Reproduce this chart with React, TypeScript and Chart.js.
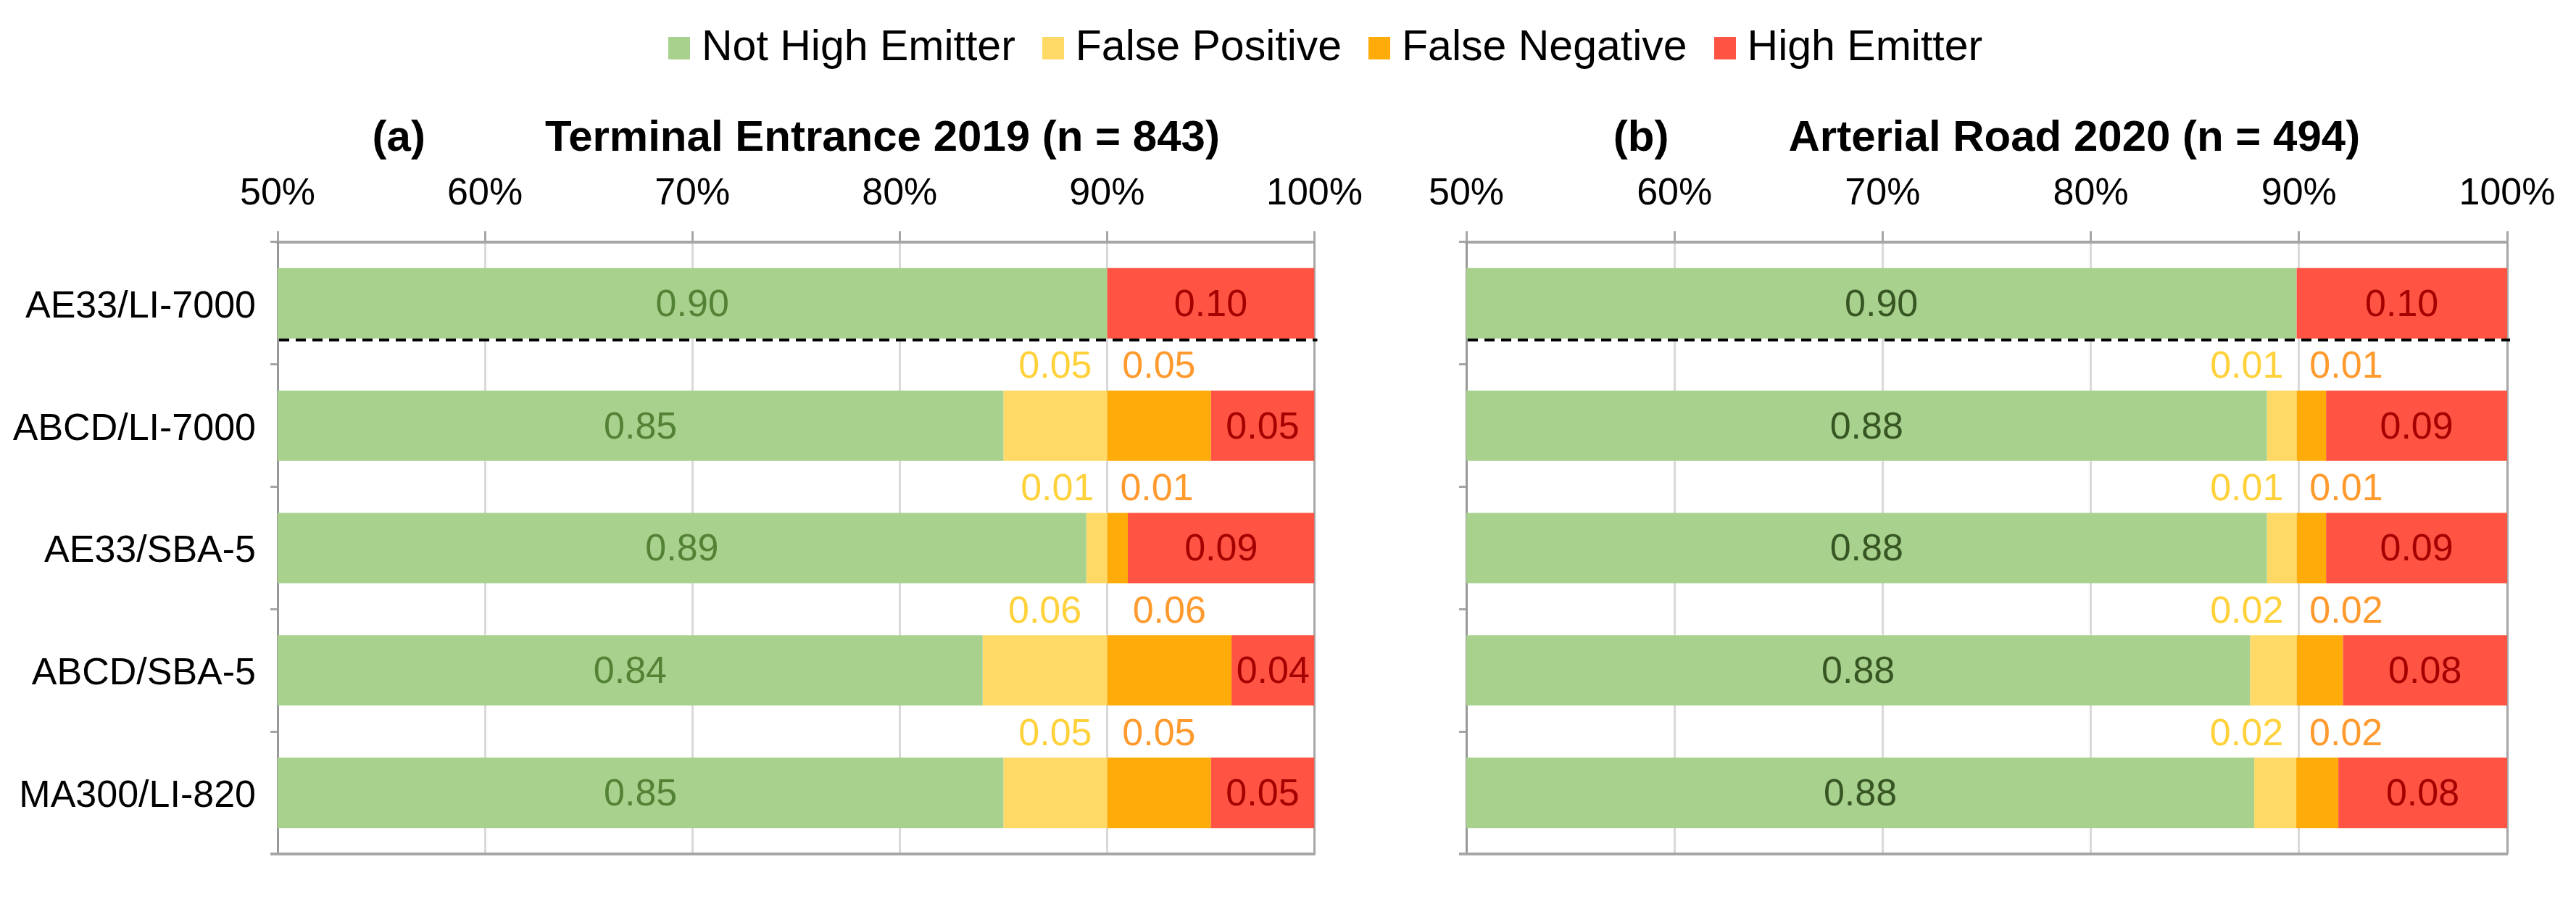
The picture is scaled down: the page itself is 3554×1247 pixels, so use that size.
import React, { useEffect, useRef } from "react";
import { Chart, registerables } from "chart.js";

Chart.register(...registerables);

// ---------- data ----------
const categories = ["AE33/LI-7000", "ABCD/LI-7000", "AE33/SBA-5", "ABCD/SBA-5", "MA300/LI-820"];
const xTickValues = [0.5, 0.6, 0.7, 0.8, 0.9, 1.0];
const seriesNames = ["Not High Emitter", "False Positive", "False Negative", "High Emitter"];

const terminalNotHigh = [0.9, 0.85, 0.89, 0.84, 0.85];
const terminalFalsePos = [0, 0.05, 0.01, 0.06, 0.05];
const terminalFalseNeg = [0, 0.05, 0.01, 0.06, 0.05];
const terminalHigh = [0.1, 0.05, 0.09, 0.04, 0.05];

const arterialNotHigh = [0.8988, 0.8846, 0.8846, 0.8765, 0.8785];
const arterialFalsePos = [0, 0.0142, 0.0142, 0.0223, 0.0202];
const arterialFalseNeg = [0, 0.0142, 0.0142, 0.0223, 0.0202];
const arterialHigh = [0.1012, 0.087, 0.087, 0.0789, 0.0811];

const panelTags = ["(a)", "(b)"];
const panelTitles = ["Terminal Entrance 2019 (n = 843)", "Arterial Road 2020 (n = 494)"];

// ---------- styles ----------
const FONT = '"Liberation Sans", Arial, Helvetica, sans-serif';
const COLORS = ["#A9D18E", "#FFD966", "#FFAB0A", "#FF5444"];
const LABEL_FP = "#FFD13B";
const LABEL_FN = "#FF9A2E";
const LABEL_HE = "#A50000";

Chart.defaults.font.family = FONT;

const decorPlugin = {
  id: "panelDecor",
  afterDatasetsDraw(chart: any, _args: any, opts: any) {
    const { ctx, chartArea } = chart;
    const xs = chart.scales.x;
    const ds = chart.data.datasets;
    const meta0 = chart.getDatasetMeta(0);
    ctx.save();
    // bottom frame line
    ctx.strokeStyle = "#A6A6A6";
    ctx.lineWidth = 4;
    ctx.beginPath();
    ctx.moveTo(chartArea.left - 10, chartArea.bottom);
    ctx.lineTo(chartArea.right + 1, chartArea.bottom);
    ctx.stroke();

    // dashed reference line under first bar
    const b0 = meta0.data[0];
    const dashY = b0.y + b0.height / 2 + 2;
    ctx.strokeStyle = "#000";
    ctx.lineWidth = 4;
    ctx.setLineDash([14, 9]);
    ctx.beginPath();
    ctx.moveTo(chartArea.left + 2, dashY);
    ctx.lineTo(chartArea.right + 4, dashY);
    ctx.stroke();
    ctx.setLineDash([]);

    // data labels
    ctx.font = `52px ${FONT}`;
    ctx.textBaseline = "middle";
    ctx.textAlign = "center";
    const catH = chart.scales.y.height / chart.data.labels.length;
    const px = (v: number) => xs.getPixelForValue(Math.min(Math.max(v, xs.min), xs.max));
    for (let i = 0; i < chart.data.labels.length; i++) {
      const bar = meta0.data[i];
      const yc = bar.y + 3;
      const nhe = ds[0].data[i];
      const fp = ds[1].data[i];
      const fn = ds[2].data[i];
      const he = ds[3].data[i];
      // not high emitter
      ctx.fillStyle = opts.nheColor;
      ctx.fillText(nhe.toFixed(2), (px(xs.min) + px(nhe)) / 2, yc);
      // high emitter
      ctx.fillStyle = LABEL_HE;
      ctx.fillText(he.toFixed(2), (px(nhe + fp + fn) + px(1)) / 2, yc);
      // FP / FN above the bar
      const gap = catH - bar.height;
      const yTop = bar.y - bar.height / 2 - gap / 2 + 4;
      const boundary = px(nhe + fp);
      if (fp > 0) {
        const t = fp.toFixed(2);
        const w = ctx.measureText(t).width;
        const c = Math.min((px(nhe) + boundary) / 2, boundary - 18 - w / 2);
        ctx.fillStyle = LABEL_FP;
        ctx.fillText(t, c, yTop);
      }
      if (fn > 0) {
        const t = fn.toFixed(2);
        const w = ctx.measureText(t).width;
        const c = Math.max((boundary + px(nhe + fp + fn)) / 2, boundary + 18 + w / 2);
        ctx.fillStyle = LABEL_FN;
        ctx.fillText(t, c, yTop);
      }
    }
    ctx.restore();
  },
  afterDraw(chart: any, _args: any, opts: any) {
    const { ctx, chartArea } = chart;
    ctx.save();
    ctx.font = `bold 60px ${FONT}`;
    ctx.fillStyle = "#000";
    ctx.textBaseline = "alphabetic";
    ctx.textAlign = "left";
    const wTag = ctx.measureText(opts.tag).width;
    const wTitle = ctx.measureText(opts.title).width;
    const gap = 165;
    const total = wTag + gap + wTitle;
    const start = (chartArea.left + chartArea.right) / 2 - total / 2;
    ctx.fillText(opts.tag, start, 208);
    ctx.fillText(opts.title, start + wTag + gap, 208);
    ctx.restore();
  },
};

type PanelProps = {
  left: number;
  width: number;
  padRight: number;
  yWidth: number;
  showLabels: boolean;
  nheColor: string;
  tag: string;
  title: string;
  series: number[][];
};

function Panel(p: PanelProps) {
  const ref = useRef<HTMLCanvasElement | null>(null);
  useEffect(() => {
    if (!ref.current) return;
    const chart = new Chart(ref.current, {
      type: "bar",
      data: {
        labels: categories,
        datasets: p.series.map((d, k) => ({
          label: seriesNames[k],
          data: d,
          backgroundColor: COLORS[k],
          borderWidth: 0,
          barPercentage: 0.575,
          categoryPercentage: 1,
        })),
      },
      options: {
        animation: false,
        responsive: false,
        devicePixelRatio: 1,
        indexAxis: "y",
        layout: { padding: { top: 222, bottom: 69, left: 0, right: p.padRight } },
        plugins: {
          legend: { display: false },
          title: { display: false },
          tooltip: { enabled: false },
          panelDecor: { nheColor: p.nheColor, tag: p.tag, title: p.title },
        } as any,
        scales: {
          x: {
            position: "top",
            stacked: true,
            min: xTickValues[0],
            max: xTickValues[xTickValues.length - 1],
            afterBuildTicks: (s: any) => {
              s.ticks = xTickValues.map((v) => ({ value: v }));
            },
            ticks: {
              font: { size: 52 },
              color: "#000",
              padding: 20,
              callback: (v: any) => Math.round(Number(v) * 100) + "%",
            },
            grid: {
              color: (c: any) => (c.tick && Math.abs(c.tick.value - 1) < 1e-6 ? "#A6A6A6" : "#D9D9D9"),
              lineWidth: 3,
              tickLength: 15,
              tickColor: "#A6A6A6",
              tickWidth: 3,
            },
            border: { color: "#A6A6A6", width: 4 },
            afterFit: (s: any) => {
              s.height = 112;
            },
          },
          y: {
            stacked: true,
            ticks: {
              display: p.showLabels,
              font: { size: 52 },
              color: "#000",
              padding: 20,
              labelOffset: 5,
            },
            grid: {
              drawOnChartArea: false,
              drawTicks: true,
              tickLength: 10,
              tickColor: "#A6A6A6",
              lineWidth: 3,
            },
            border: { color: "#999999", width: 3 },
            afterFit: (s: any) => {
              s.width = p.yWidth;
            },
          },
        },
      } as any,
      plugins: [decorPlugin],
    });
    return () => chart.destroy();
  }, []);
  return (
    <canvas
      ref={ref}
      width={p.width}
      height={1247}
      style={{ position: "absolute", left: p.left, top: 0, width: p.width, height: 1247 }}
    />
  );
}

function Legend() {
  return (
    <div
      style={{
        position: "absolute",
        left: 922,
        top: 34,
        display: "flex",
        alignItems: "flex-start",
        fontFamily: FONT,
        fontSize: 59,
        lineHeight: "59px",
        color: "#000",
        whiteSpace: "nowrap",
      }}
    >
      {seriesNames.map((n, k) => (
        <div key={n} style={{ display: "flex", alignItems: "flex-start", marginRight: k < 3 ? 37 : 0 }}>
          <div style={{ width: 30, height: 31, marginTop: 17, marginRight: 16, background: COLORS[k] }} />
          <span>{n}</span>
        </div>
      ))}
    </div>
  );
}

export default function App() {
  useEffect(() => {
    document.body.style.margin = "0";
  }, []);
  return (
    <div style={{ position: "relative", width: 3554, height: 1247, background: "#fff", overflow: "hidden" }}>
      <Legend />
      <Panel
        left={0}
        width={1900}
        padRight={77}
        yWidth={383}
        showLabels={true}
        nheColor="#548235"
        tag={panelTags[0]}
        title={panelTitles[0]}
        series={[terminalNotHigh, terminalFalsePos, terminalFalseNeg, terminalHigh]}
      />
      <Panel
        left={1900}
        width={1654}
        padRight={95}
        yWidth={123}
        showLabels={false}
        nheColor="#375623"
        tag={panelTags[1]}
        title={panelTitles[1]}
        series={[arterialNotHigh, arterialFalsePos, arterialFalseNeg, arterialHigh]}
      />
    </div>
  );
}
